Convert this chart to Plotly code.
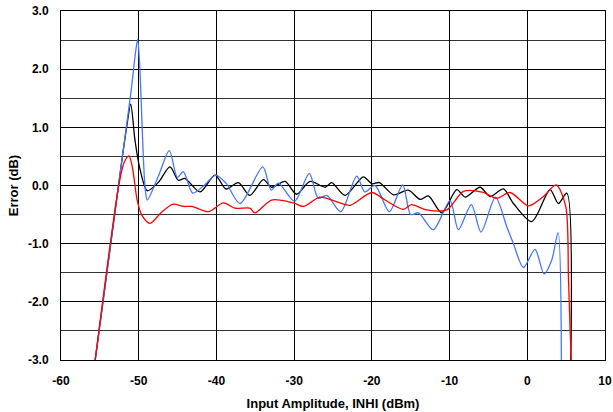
import plotly.graph_objects as go

# rising edge shared by all three curves, then the ripple along 0 dB
black_x = [-55.6, -52.2, -51.5, -51.03, -50.48, -49.9, -48.9, -47.5, -45.97, -44.9, -44.04,
           -42.1, -40.18, -38.76, -37.18, -35.7, -33.96, -32.9, -31.17, -29.7, -27.95, -26.0,
           -25.17, -23.45, -21.09, -20.0, -19.03, -17.2, -15.3, -13.8, -12.73, -11.0, -9.07,
           -8.0, -6.07, -4.79, -3.07, -1.78, 0.58, 2.93, 4.0, 5.08, 5.6]
black_y = [-3.0, 0.4, 1.05, 1.40, 0.78, 0.32, -0.09, 0.05, 0.32, 0.09, 0.12,
           -0.11, 0.18, -0.06, 0.05, -0.17, 0.10, -0.03, 0.07, -0.15, 0.07, -0.03,
           0.05, -0.17, 0.15, 0.03, 0.05, -0.16, -0.08, -0.24, -0.18, -0.47, -0.07,
           -0.20, -0.03, -0.19, -0.06, -0.31, -0.62, -0.07, -0.31, -0.13, -3.0]

blue_x = [-55.6, -52.2, -51.0, -50.4, -50.13, -49.85, -49.5, -49.2, -48.9, -47.5, -46.06,
          -45.03, -44.26, -43.05, -41.6, -40.1, -38.76, -36.96, -34.04, -32.95, -32.03,
          -29.95, -28.05, -26.9, -25.8, -24.0, -21.95, -20.9, -19.6, -17.75, -16.03, -15.0,
          -14.0, -12.1, -9.94, -8.87, -7.2, -5.95, -4.1, -2.64, -1.78, -0.5, 1.0, 2.16,
          3.15, 3.96, 4.39]
blue_y = [-3.0, 0.4, 1.6, 2.3, 2.51, 2.0, 0.8, 0.0, -0.25, 0.15, 0.60,
          0.14, 0.24, -0.13, 0.0, 0.18, 0.04, -0.31, 0.32, -0.08, 0.04,
          -0.27, 0.21, -0.22, -0.17, -0.45, 0.16, -0.11, 0.0, -0.45, 0.01, -0.50,
          -0.47, -0.76, -0.26, -0.76, -0.33, -0.80, -0.20, -0.71, -1.0, -1.41, -1.10, -1.52,
          -1.28, -0.81, -3.0]

red_x = [-55.6, -52.5, -51.8, -51.25, -50.8, -50.2, -49.6, -48.55, -47.0, -45.55, -44.26,
         -43.18, -41.04, -39.1, -37.6, -35.7, -35.03, -32.9, -30.1, -28.8, -26.67, -24.5,
         -22.8, -20.0, -18.3, -15.95, -14.9, -12.94, -10.36, -8.2, -5.65, -3.93, -2.21,
         0.15, 2.08, 3.71, 4.95, 5.3, 5.64]
red_y = [-3.0, 0.05, 0.42, 0.51, 0.30, -0.25, -0.51, -0.65, -0.45, -0.32, -0.36,
         -0.36, -0.45, -0.30, -0.39, -0.39, -0.47, -0.25, -0.30, -0.36, -0.20, -0.28,
         -0.34, -0.12, -0.25, -0.41, -0.33, -0.42, -0.42, -0.10, -0.12, -0.22, -0.12,
         -0.35, -0.19, 0.01, -0.36, -1.6, -3.0]

x_ticks = [-60, -50, -40, -30, -20, -10, 0, 10]
y_ticks = [3.0, 2.0, 1.0, 0.0, -1.0, -2.0, -3.0]

fig = go.Figure()
fig.add_trace(go.Scatter(x=black_x, y=black_y, mode="lines", name="black",
                         line=dict(color="#000000", width=1.3, shape="spline", smoothing=0.8)))
fig.add_trace(go.Scatter(x=blue_x, y=blue_y, mode="lines", name="blue",
                         line=dict(color="#4477ff", width=1.3, shape="spline", smoothing=0.8)))
fig.add_trace(go.Scatter(x=red_x, y=red_y, mode="lines", name="red",
                         line=dict(color="#ff0000", width=1.3, shape="spline", smoothing=0.8)))

tick_font = dict(family="Liberation Sans, Arial", size=12, color="black")
title_font = dict(family="Liberation Sans, Arial", size=13, color="black")
fig.update_layout(
    width=613, height=412, autosize=False,
    margin=dict(l=61, r=8, t=11, b=52),
    paper_bgcolor="white", plot_bgcolor="white",
    showlegend=False, font=tick_font,
)
fig.update_xaxes(
    range=[-60, 10], tickvals=x_ticks, ticktext=[f"<b>{v}</b>" for v in x_ticks],
    showgrid=True, gridcolor="#000000", gridwidth=1, automargin=False,
    showline=True, linecolor="#000000", linewidth=1, mirror=True,
    ticks="outside", ticklen=10, tickcolor="rgba(0,0,0,0)", zeroline=False,
    tickfont=tick_font,
    title=dict(text="<b>Input Amplitude, INHI (dBm)</b>", font=title_font, standoff=11),
)
fig.update_yaxes(
    range=[-3, 3], tickvals=y_ticks, ticktext=[f"<b>{v:.1f}</b>" for v in y_ticks],
    showgrid=True, gridcolor="#000000", gridwidth=1, automargin=False,
    minor=dict(dtick=0.5, showgrid=True, gridcolor="#333333", gridwidth=1),
    showline=True, linecolor="#000000", linewidth=1, mirror=True,
    ticks="outside", ticklen=9, tickcolor="rgba(0,0,0,0)", zeroline=False,
    tickfont=tick_font,
    title=dict(text="<b>Error (dB)</b>", font=title_font, standoff=6),
)

# drop the default 8px page margin so the figure sits at the window corner
fig.write_html("out.html", config={"displayModeBar": False},
               post_script="document.body.style.margin = '0';")
